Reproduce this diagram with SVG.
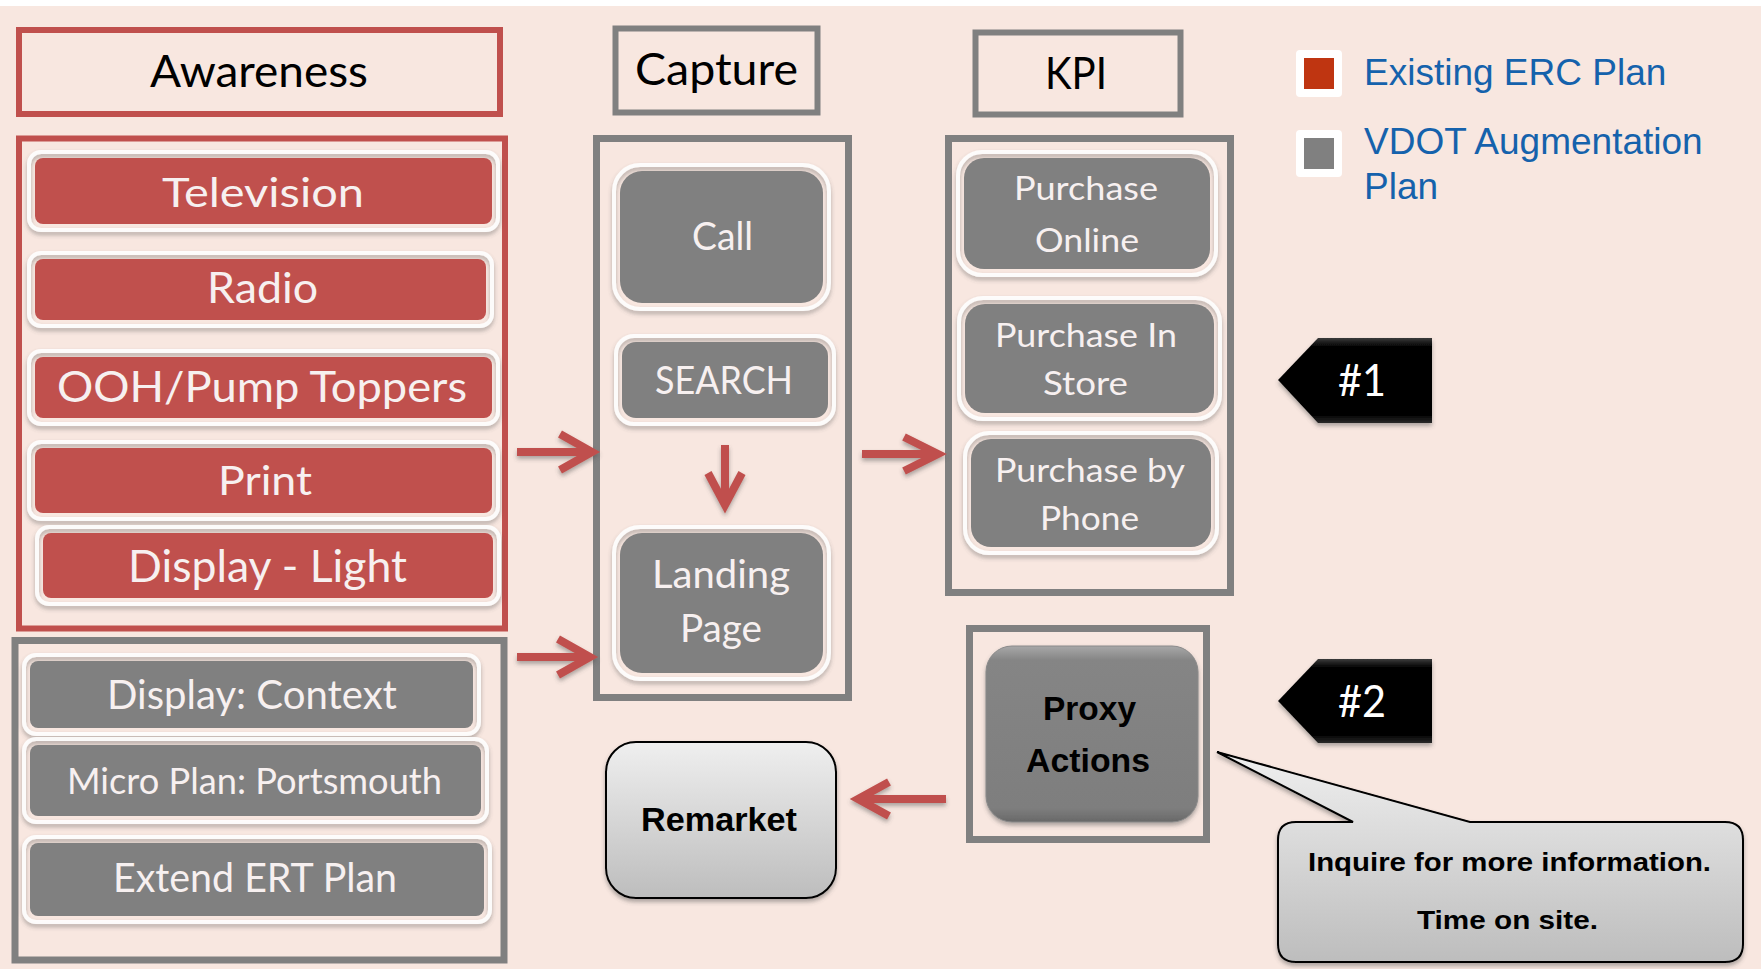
<svg xmlns="http://www.w3.org/2000/svg" width="1761" height="969" viewBox="0 0 1761 969">
<defs>
<style>
.bg{fill:#F8E7E0}
.hdr-r{fill:none;stroke:#C0504D;stroke-width:6}
.hdr-g{fill:none;stroke:#808080;stroke-width:7}
.glow{fill:none;stroke:#FFFFFF;stroke-width:4;stroke-opacity:0.9;filter:url(#sh)}
.red{fill:#C0504D}
.gry{fill:#808080}
.t{font-family:Lato,"Open Sans","Liberation Sans",sans-serif;text-anchor:middle}
.hdr{fill:#000000}
.wt{fill:#F7F0F0}
.bold{font-family:"Liberation Sans",Arial,sans-serif;font-weight:bold;text-anchor:middle;fill:#000}
.leg{font-family:"Liberation Sans",Arial,sans-serif;font-size:37px;fill:#1562AC}
.arr{fill:none;stroke:#C0504D;stroke-width:8;stroke-linejoin:miter;filter:url(#sh)}
</style>
<filter id="sh" x="-20%" y="-20%" width="140%" height="150%">
<feDropShadow dx="0" dy="3" stdDeviation="2" flood-color="#505050" flood-opacity="0.45"/>
</filter>
<linearGradient id="gProxy" x1="0" y1="0" x2="0" y2="1">
<stop offset="0" stop-color="#A8A8A8"/>
<stop offset="0.08" stop-color="#858585"/>
<stop offset="0.92" stop-color="#7E7E7E"/>
<stop offset="1" stop-color="#686868"/>
</linearGradient>
<linearGradient id="gLight" x1="0" y1="0" x2="0" y2="1">
<stop offset="0" stop-color="#EFEFEF"/>
<stop offset="1" stop-color="#BDBDBD"/>
</linearGradient>
<linearGradient id="gBadge" x1="0" y1="0" x2="0" y2="1">
<stop offset="0" stop-color="#3A3A3A"/>
<stop offset="0.1" stop-color="#050505"/>
<stop offset="0.9" stop-color="#000000"/>
<stop offset="1" stop-color="#2A2A2A"/>
</linearGradient>
</defs>

<rect x="0" y="0" width="1761" height="969" fill="#FFFFFF"/>
<rect class="bg" x="0" y="6" width="1761" height="963"/>

<!-- Awareness column -->
<g id="hdr-awareness">
<rect class="hdr-r" x="19" y="30" width="481" height="84"/>
<text class="t hdr" x="259" y="87" font-size="44" textLength="218" lengthAdjust="spacingAndGlyphs">Awareness</text>
</g>
<g id="grp-existing">
<rect class="hdr-r" x="19" y="138.5" width="486" height="490"/>
</g>
<g id="n-television">
<rect class="glow" x="29" y="152" width="469" height="78" rx="12"/>
<rect class="red" x="35" y="158" width="457" height="66" rx="8"/>
<text class="t wt" x="263" y="207" font-size="40" textLength="202" lengthAdjust="spacingAndGlyphs">Television</text>
</g>
<g id="n-radio">
<rect class="glow" x="29" y="253" width="463" height="73" rx="12"/>
<rect class="red" x="35" y="259" width="451" height="61" rx="8"/>
<text class="t wt" x="262.5" y="303" font-size="42" textLength="111" lengthAdjust="spacingAndGlyphs">Radio</text>
</g>
<g id="n-ooh">
<rect class="glow" x="29" y="351" width="469" height="73" rx="12"/>
<rect class="red" x="35" y="357" width="457" height="61" rx="8"/>
<text class="t wt" x="262" y="402" font-size="42" textLength="410" lengthAdjust="spacingAndGlyphs">OOH/Pump Toppers</text>
</g>
<g id="n-print">
<rect class="glow" x="29" y="442" width="469" height="77" rx="12"/>
<rect class="red" x="35" y="448" width="457" height="65" rx="8"/>
<text class="t wt" x="265" y="495" font-size="40" textLength="94" lengthAdjust="spacingAndGlyphs">Print</text>
</g>
<g id="n-display-light">
<rect class="glow" x="37" y="527" width="462" height="77" rx="12"/>
<rect class="red" x="43" y="533" width="450" height="65" rx="8"/>
<text class="t wt" x="267.5" y="582" font-size="44" textLength="279" lengthAdjust="spacingAndGlyphs">Display - Light</text>
</g>

<g id="grp-augment">
<rect class="hdr-g" x="15" y="640.5" width="489" height="319.5"/>
</g>
<g id="n-display-context">
<rect class="glow" x="24" y="655" width="455" height="79" rx="12"/>
<rect class="gry" x="30" y="661" width="443" height="67" rx="8"/>
<text class="t wt" x="252" y="709" font-size="40" textLength="290" lengthAdjust="spacingAndGlyphs">Display: Context</text>
</g>
<g id="n-micro">
<rect class="glow" x="24" y="739" width="463" height="83" rx="12"/>
<rect class="gry" x="30" y="745" width="451" height="71" rx="8"/>
<text class="t wt" x="254.5" y="794" font-size="36" textLength="375" lengthAdjust="spacingAndGlyphs">Micro Plan: Portsmouth</text>
</g>
<g id="n-extend">
<rect class="glow" x="24" y="837" width="466" height="85" rx="12"/>
<rect class="gry" x="30" y="843" width="454" height="73" rx="8"/>
<text class="t wt" x="255" y="892" font-size="40" textLength="284" lengthAdjust="spacingAndGlyphs">Extend ERT Plan</text>
</g>

<!-- Capture column -->
<g id="hdr-capture">
<rect class="hdr-g" x="615.5" y="28.5" width="202" height="84" style="stroke-width:6"/>
<text class="t hdr" x="716.5" y="85" font-size="44" textLength="163" lengthAdjust="spacingAndGlyphs">Capture</text>
</g>
<g id="grp-capture">
<rect class="hdr-g" x="596.5" y="138.5" width="252" height="559"/>
</g>
<g id="n-call">
<rect class="glow" x="614" y="165" width="215" height="144" rx="26"/>
<rect class="gry" x="620" y="171" width="203" height="132" rx="22"/>
<text class="t wt" x="722.5" y="250" font-size="39" textLength="61" lengthAdjust="spacingAndGlyphs">Call</text>
</g>
<g id="n-search">
<rect class="glow" x="616" y="336" width="218" height="88" rx="18"/>
<rect class="gry" x="622" y="342" width="206" height="76" rx="14"/>
<text class="t wt" x="724" y="394" font-size="39" textLength="138" lengthAdjust="spacingAndGlyphs">SEARCH</text>
</g>
<g id="n-landing">
<rect class="glow" x="614" y="527" width="215" height="152" rx="26"/>
<rect class="gry" x="620" y="533" width="203" height="140" rx="22"/>
<text class="t wt" x="721" y="588" font-size="39" textLength="138" lengthAdjust="spacingAndGlyphs">Landing</text>
<text class="t wt" x="721" y="642" font-size="39" textLength="82" lengthAdjust="spacingAndGlyphs">Page</text>
</g>

<!-- KPI column -->
<g id="hdr-kpi">
<rect class="hdr-g" x="975.5" y="32.5" width="205" height="82" style="stroke-width:6"/>
<text class="t hdr" x="1076" y="89" font-size="44" textLength="62" lengthAdjust="spacingAndGlyphs">KPI</text>
</g>
<g id="grp-kpi">
<rect class="hdr-g" x="948.5" y="138.5" width="282" height="454"/>
</g>
<g id="n-online">
<rect class="glow" x="958" y="152" width="258" height="123" rx="24"/>
<rect class="gry" x="964" y="158" width="246" height="111" rx="20"/>
<text class="t wt" x="1086" y="200" font-size="33" textLength="144" lengthAdjust="spacingAndGlyphs">Purchase</text>
<text class="t wt" x="1087" y="252" font-size="33" textLength="104" lengthAdjust="spacingAndGlyphs">Online</text>
</g>
<g id="n-store">
<rect class="glow" x="959" y="298" width="261" height="121" rx="24"/>
<rect class="gry" x="965" y="304" width="249" height="109" rx="20"/>
<text class="t wt" x="1086" y="347" font-size="33" textLength="182" lengthAdjust="spacingAndGlyphs">Purchase In</text>
<text class="t wt" x="1085.5" y="395" font-size="33" textLength="85" lengthAdjust="spacingAndGlyphs">Store</text>
</g>
<g id="n-phone">
<rect class="glow" x="965" y="433" width="252" height="120" rx="24"/>
<rect class="gry" x="971" y="439" width="240" height="108" rx="20"/>
<text class="t wt" x="1090" y="482" font-size="33" textLength="190" lengthAdjust="spacingAndGlyphs">Purchase by</text>
<text class="t wt" x="1089.5" y="530" font-size="33" textLength="99" lengthAdjust="spacingAndGlyphs">Phone</text>
</g>

<!-- Proxy / Remarket -->
<g id="grp-proxy">
<rect class="hdr-g" x="969.5" y="628.5" width="237" height="211"/>
</g>
<g id="n-proxy">
<rect x="986" y="646" width="212" height="176" rx="26" fill="url(#gProxy)" stroke="#8A8A8A" stroke-width="1" filter="url(#sh)"/>
<text class="bold" x="1089.5" y="720" font-size="33" textLength="93" lengthAdjust="spacingAndGlyphs">Proxy</text>
<text class="bold" x="1088" y="772" font-size="33" textLength="124" lengthAdjust="spacingAndGlyphs">Actions</text>
</g>
<g id="n-remarket">
<rect x="606" y="742" width="230" height="156" rx="30" fill="url(#gLight)" stroke="#000" stroke-width="2" filter="url(#sh)"/>
<text class="bold" x="719" y="831" font-size="33" textLength="156" lengthAdjust="spacingAndGlyphs">Remarket</text>
</g>

<!-- Badges -->
<g id="n-badge1">
<path d="M1278,380 L1318,338 L1432,338 L1432,423 L1318,423 Z" fill="url(#gBadge)" filter="url(#sh)"/>
<text class="t" x="1362" y="396" font-size="44" fill="#FFFFFF" textLength="48" lengthAdjust="spacingAndGlyphs">#1</text>
</g>
<g id="n-badge2">
<path d="M1278,701 L1318,659 L1432,659 L1432,743 L1318,743 Z" fill="url(#gBadge)" filter="url(#sh)"/>
<text class="t" x="1362" y="717" font-size="44" fill="#FFFFFF" textLength="48" lengthAdjust="spacingAndGlyphs">#2</text>
</g>

<!-- Callout -->
<g id="n-callout">
<path d="M1296,822 L1353,822 L1217,752 L1470,822 L1725,822 Q1743,822 1743,840 L1743,944 Q1743,962 1725,962 L1296,962 Q1278,962 1278,944 L1278,840 Q1278,822 1296,822 Z" fill="url(#gLight)" stroke="#000" stroke-width="2" filter="url(#sh)"/>
<text class="bold" x="1509.5" y="871" font-size="26" textLength="403" lengthAdjust="spacingAndGlyphs">Inquire for more information.</text>
<text class="bold" x="1507.5" y="929" font-size="26" textLength="181" lengthAdjust="spacingAndGlyphs">Time on site.</text>
</g>

<!-- Legend -->
<g id="legend-existing">
<rect x="1296" y="50" width="46" height="47" rx="4" fill="#FFFFFF"/>
<rect x="1304" y="58" width="30" height="31" fill="#BF3511"/>
<text class="leg" x="1364" y="85">Existing ERC Plan</text>
</g>
<g id="legend-vdot">
<rect x="1296" y="130" width="46" height="47" rx="4" fill="#FFFFFF"/>
<rect x="1304" y="138" width="30" height="31" fill="#808080"/>
<text class="leg" x="1364" y="154">VDOT Augmentation</text>
<text class="leg" x="1364" y="199">Plan</text>
</g>

<!-- Connectors -->
<g id="connectors">
<path class="arr" d="M517,452 L590,452 M560,434 L592,452 L560,470"/>
<path class="arr" d="M517,657 L588,657 M558,639 L590,657 L558,675"/>
<path class="arr" d="M725,445 L725,503 M708,473 L725,505 L742,473"/>
<path class="arr" d="M862,454 L936,454 M904,437 L938,454 L904,471"/>
<path class="arr" d="M946,799 L860,799 M889,782 L858,799 L889,816"/>
</g>
</svg>
